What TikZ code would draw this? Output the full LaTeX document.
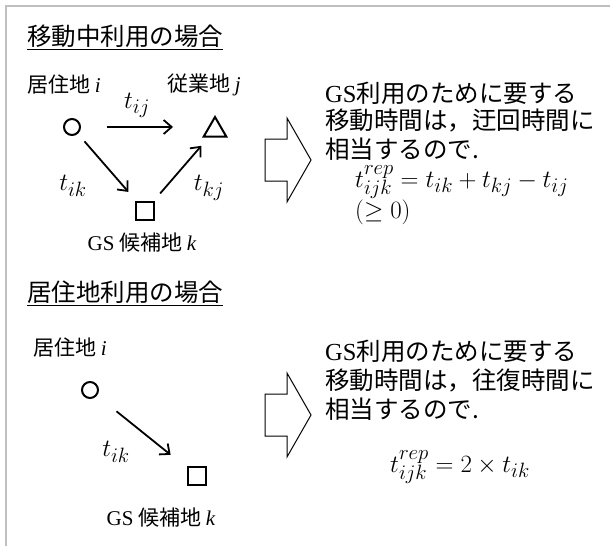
\documentclass[tikz,border=0pt]{standalone}
\usepackage{fontspec}
\setmainfont{Liberation Serif}
\newfontfamily\jp{Noto Sans CJK JP}
\usetikzlibrary{arrows.meta,shapes.geometric}
\newcommand\latit[1]{{\rmfamily\itshape #1}}
\newcommand\latrm[1]{{\rmfamily #1}}
\begin{document}
\begin{tikzpicture}[x=1pt,y=-1pt,
  jptext/.style={inner sep=0pt, anchor=west, font=\jp\fontsize{24.5}{28}\selectfont},
  lbl/.style={inner sep=0pt, font=\jp\fontsize{21}{24}\selectfont},
  mth/.style={inner sep=0pt, font=\fontsize{28}{32}\selectfont},
  pt/.style={draw, line width=2pt, inner sep=0pt},
  arr/.style={line width=1.8pt, -{Straight Barb[length=8pt,width=14pt,line width=1.8pt]}},
  blk/.style={line width=1pt, line join=miter},
  frame/.style={draw=black!25, line width=2pt}]

\useasboundingbox (0,0) rectangle (610,546);
\draw[frame] (5.5,546) -- (5.5,6) -- (610,6);

% ---------- top section ----------
\node[jptext] (t1) at (27,37) {\underline{移動中利用の場合}};

\node[lbl, anchor=west] (li) at (27,85) {居住地 \latit{i}};
\node[lbl, anchor=west] (lj) at (167,85) {従業地 \latit{j}};
\node[pt, circle, minimum size=16pt] (ci) at (72,127) {};
\node[pt, regular polygon, regular polygon sides=3, minimum size=26pt] (tj) at (215,130) {};
\node[pt, minimum size=18pt] (sk) at (145,211) {};
\node[lbl] (lk) at (142,243) {\latrm{GS} 候補地 \latit{k}};

\draw[arr, shorten <=26pt, shorten >=42pt] (ci) -- (ci -| tj);
\draw[arr, shorten <=10pt, shorten >=12pt] (ci) -- (sk);
\draw[arr, shorten <=10pt, shorten >=11pt] (sk) -- (tj);

\node[mth] (lij) at (137,105) {$t_{ij}$};
\node[mth] (lik) at (73,186) {$t_{ik}$};
\node[mth] (lkj) at (209,188) {$t_{kj}$};

\draw[blk] (287,118) -- (311,160) -- (287,202) -- (287,181) -- (265,181) -- (265,139) -- (287,139) -- cycle;

\node[jptext] (r1) at (325,93) {\latrm{GS}利用のために要する};
\node[jptext] (r2) at (325,121) {移動時間は，迂回時間に};
\node[jptext] (r3) at (325,149) {相当するので.};
\node[mth, anchor=west] (f1) at (355,182) {$t_{ijk}^{\raisebox{-3pt}{$\scriptstyle rep$}}=t_{ik}+t_{kj}-t_{ij}$};
\node[mth, anchor=west] (f1b) at (355,212) {$(\geq 0)$};

% ---------- bottom section ----------
\node[jptext] (t2) at (27,293) {\underline{居住地利用の場合}};

\node[lbl, anchor=west] (li2) at (33,348) {居住地 \latit{i}};
\node[pt, circle, minimum size=16pt] (ci2) at (90,390) {};
\node[pt, minimum size=18pt] (sk2) at (197,476) {};
\node[lbl] (lk2) at (161,518) {\latrm{GS} 候補地 \latit{k}};

\draw[arr, shorten <=25pt, shorten >=21pt] (ci2) -- (sk2);
\node[mth] (lik2) at (116,452) {$t_{ik}$};

\draw[blk] (287,373) -- (311,415) -- (287,457) -- (287,436) -- (265,436) -- (265,394) -- (287,394) -- cycle;

\node[jptext] (s1) at (325,351) {\latrm{GS}利用のために要する};
\node[jptext] (s2) at (325,380) {移動時間は，往復時間に};
\node[jptext] (s3) at (325,409) {相当するので.};
\node[mth, anchor=west] (f2) at (390,467) {$t_{ijk}^{\raisebox{-3pt}{$\scriptstyle rep$}}=2\times t_{ik}$};
\end{tikzpicture}
\end{document}
